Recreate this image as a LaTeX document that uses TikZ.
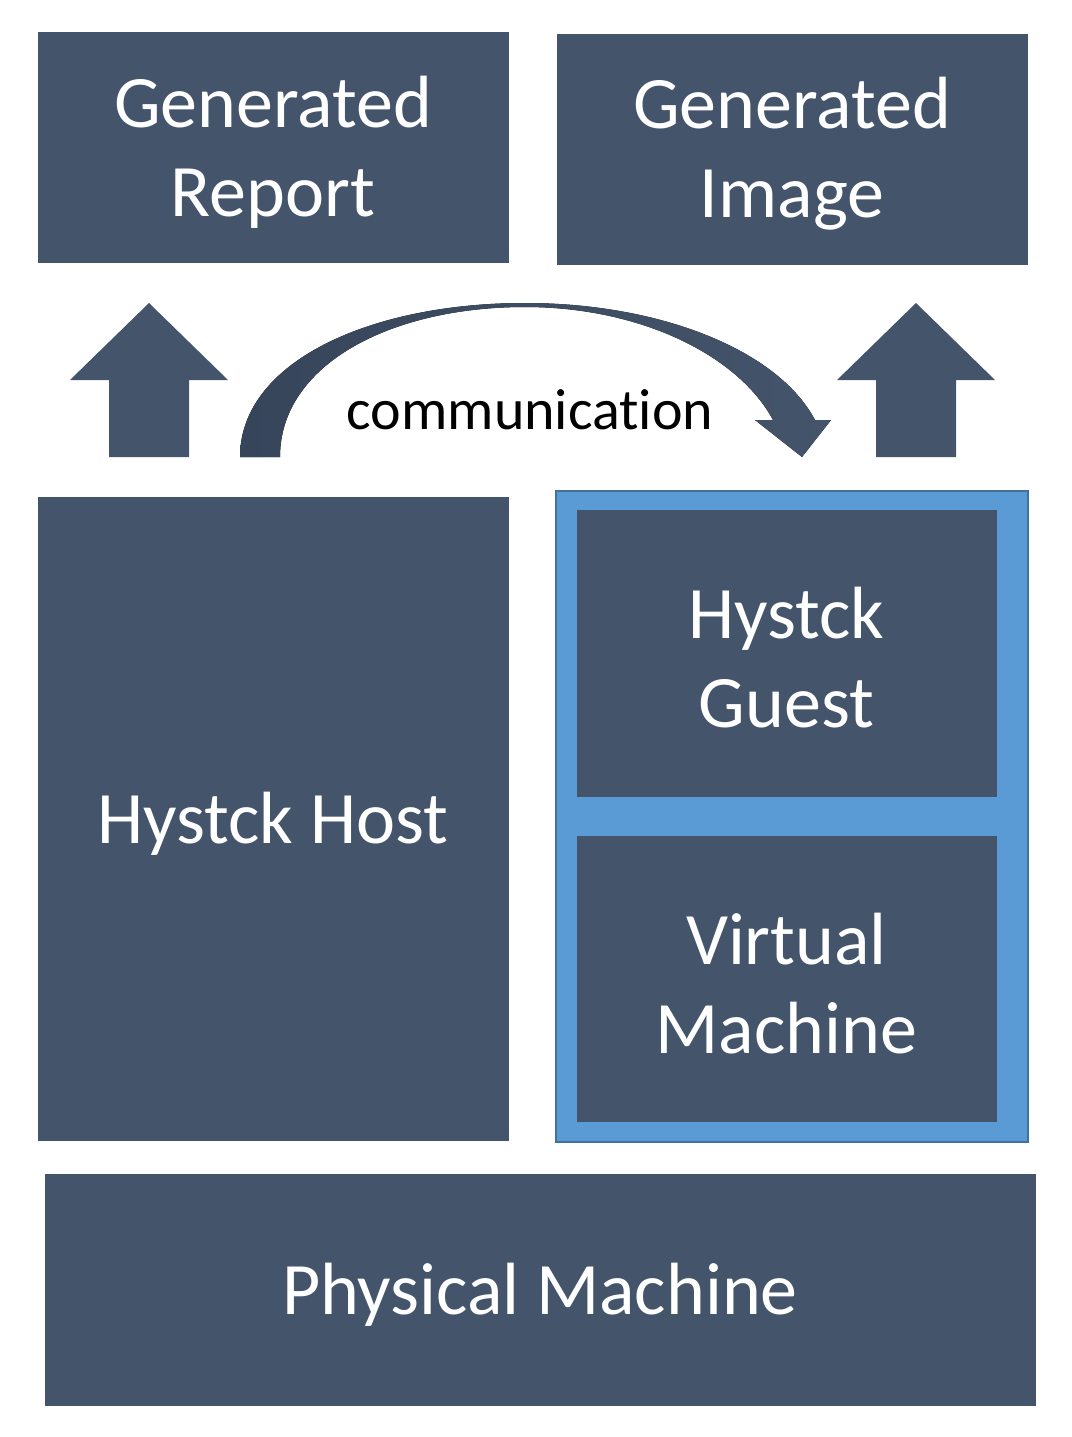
\documentclass[tikz,border=0pt]{standalone}
\usepackage{fontspec}
\setmainfont[Ligatures=NoCommon]{Carlito}
\definecolor{slate}{HTML}{44546A}
\definecolor{slatedark}{HTML}{36455A}
\definecolor{lblue}{HTML}{5B9BD5}
\definecolor{bblue}{HTML}{41719C}
\begin{document}
\begin{tikzpicture}[x=1pt,y=-1pt,
  box/.style={fill=slate,draw=slate,line width=0.8pt,inner sep=0pt},
  boxtext/.style={text=white,align=center,inner sep=0pt,yshift=-5pt,
    font=\fontsize{74}{89}\selectfont},
  blockarrow/.style={fill=slate,draw=none}]
\useasboundingbox (0,0) rectangle (1071,1437);
% top boxes
\node[box,minimum width=470pt,minimum height=230pt] (report) at (273,147) {};
\node[boxtext] (reportt) at (report.center) {Generated\\Report};
\node[box,minimum width=470pt,minimum height=230pt] (image) at (792,149) {};
\node[boxtext] (imaget) at (image.center) {Generated\\Image};
% host
\node[box,minimum width=470pt,minimum height=643pt] (host) at (273,818.5) {};
\node[boxtext] (hostt) at (host.center) {Hystck Host};
% VM container
\node[fill=lblue,draw=bblue,line width=2pt,minimum width=472pt,minimum height=651pt,inner sep=0pt] (vmframe) at (792,816.5) {};
\node[box,minimum width=419pt,minimum height=286pt] (guest) at (786.5,653) {};
\node[boxtext] (guestt) at (guest.center) {Hystck\\Guest};
\node[box,minimum width=419pt,minimum height=285pt] (vm) at (786.5,978.5) {};
\node[boxtext] (vmt) at (vm.center) {Virtual\\Machine};
% physical
\node[box,minimum width=990pt,minimum height=231pt] (phys) at (540,1289.5) {};
\node[boxtext] (physt) at (phys.center) {Physical Machine};
% up arrows
\fill[blockarrow] (109,457) -- (109,380) -- (70,380) -- (149,303) -- (228,380) -- (189,380) -- (189,457) -- cycle;
\fill[blockarrow] (876,457) -- (876,380) -- (837,380) -- (916,303) -- (995,380) -- (956,380) -- (956,457) -- cycle;
% curved arrow
\fill[left color=slatedark,right color=slate]
  (240,457) .. controls (240,362) and (370,303) .. (525,303)
  .. controls (660,303) and (778,350) .. (815,420)
  -- (831,420) -- (802,457) -- (755,420) -- (773,420)
  .. controls (738,355) and (640,307) .. (525,307)
  .. controls (390,307) and (280,365) .. (280,457) -- cycle;
\node[font=\fontsize{58}{69}\selectfont,text=black,inner sep=0pt] (comm) at (530,410) {communication};
\end{tikzpicture}
\end{document}
